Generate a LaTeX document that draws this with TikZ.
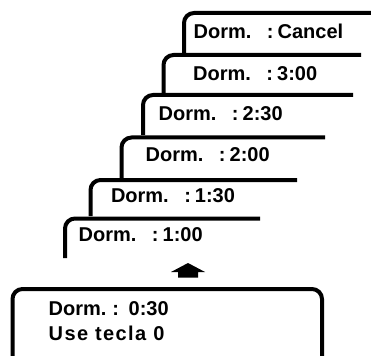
\documentclass[tikz,border=0pt]{standalone}
\usepackage{fontspec}
\setmainfont{Liberation Sans}
\begin{document}
\begin{tikzpicture}[x=1pt,y=-1pt,
  card/.style={line width=4pt,rounded corners=10pt},
  lbl/.style={anchor=base west,inner sep=0pt,font=\fontsize{20}{22}\selectfont\bfseries}]
\useasboundingbox (0,0) rectangle (371,355);
% stacked cards
\draw[card] (184,53) -- (184,13) -- (375,13);
\draw[card] (163.5,93) -- (163.5,55) -- (361,55);
\draw[card] (143,135) -- (143,95) -- (353,95);
\draw[card] (121.5,178) -- (121.5,137.5) -- (325,137.5);
\draw[card] (90.5,216) -- (90.5,180) -- (297,180);
\draw[card] (65,258) -- (65,218.5) -- (260,218.5);
% labels
\newcommand{\dgap}{\hspace{15.5pt}:\hspace{4pt}}
\node[lbl] (c1) at (193.5,39) {Dorm.\dgap Cancel};
\node[lbl] (c2) at (193,81) {Dorm.\dgap 3:00};
\node[lbl] (c3) at (158.5,121) {Dorm.\dgap 2:30};
\node[lbl] (c4) at (145.5,161) {Dorm.\dgap 2:00};
\node[lbl] (c5) at (110.8,202) {Dorm.\dgap 1:30};
\node[lbl] (c6) at (78.5,241.5) {Dorm.\dgap 1:00};
% arrow
\fill (188,263) -- (205,272) -- (198,272) -- (198,277.5) -- (178,277.5) -- (178,272) -- (171,272) -- cycle;
% bottom box
\draw[card] (12.5,360) -- (12.5,289) -- (322,289) -- (322,360);
\node[lbl] (b1) at (48.5,315.5) {Dorm.\hspace{6pt}:\hspace{9.5pt}0:30};
\node[lbl] (b2) at (48.5,340) {\addfontfeatures{LetterSpace=7}Use tecla 0};
\end{tikzpicture}
\end{document}
